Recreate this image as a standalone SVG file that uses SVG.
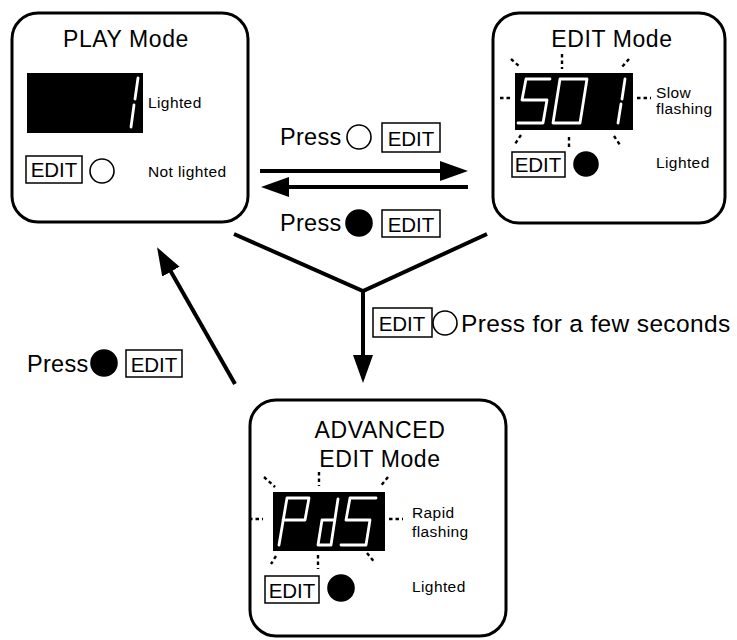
<svg xmlns="http://www.w3.org/2000/svg" width="737" height="640" viewBox="0 0 737 640">
<style>
.box{fill:#fff;stroke:#000;stroke-width:3}
.t{font-family:"Liberation Sans",Arial,Helvetica,sans-serif;fill:#000}
.title{font-size:23px;text-anchor:middle;letter-spacing:0.6px}
.small{font-size:15.5px;letter-spacing:0.4px}
.press{font-size:23.5px;letter-spacing:0.3px}
.key{fill:#fff;stroke:#000;stroke-width:1.5}
.keyt{font-size:20.5px;text-anchor:middle}
.disp{fill:#000}
.seg{fill:none;stroke:#fff;stroke-width:2.8;stroke-linecap:round;stroke-linejoin:round}
.ray{stroke:#000;stroke-width:2.4;stroke-dasharray:3.5 3;fill:none}
.conn{stroke:#000;stroke-width:4;fill:none}
.lamp{stroke:#000;stroke-width:1.6}
</style>
<defs>
<marker id="ah" markerUnits="userSpaceOnUse" markerWidth="30" markerHeight="22" refX="18" refY="10" orient="auto">
<path d="M0,0 L28,10 L0,20 z" fill="#000"/>
</marker>
</defs>

<g id="connectors">
<path class="conn" d="M260,171 L458,171" marker-end="url(#ah)"/>
<path class="conn" d="M468,187 L271,187" marker-end="url(#ah)"/>
<path class="conn" d="M234,234 L363,291 L487,234"/>
<path class="conn" d="M363,291 L363,373" marker-end="url(#ah)"/>
<path class="conn" d="M235,384 L162,256" marker-end="url(#ah)"/>
</g>

<g id="label-press-open">
<text class="t press" x="280" y="145">Press</text>
<circle class="lamp" cx="359" cy="137" r="12" fill="#fff"/>
<rect class="key" x="382" y="123" width="58" height="29"/>
<text class="t keyt" x="411" y="146">EDIT</text>
</g>
<g id="label-press-filled">
<text class="t press" x="280" y="231">Press</text>
<circle class="lamp" cx="359" cy="223" r="13" fill="#000"/>
<rect class="key" x="382" y="210" width="58" height="27"/>
<text class="t keyt" x="411" y="232">EDIT</text>
</g>
<g id="label-hold">
<rect class="key" x="373" y="308" width="59" height="29"/>
<text class="t keyt" x="402" y="331">EDIT</text>
<circle class="lamp" cx="445" cy="323" r="12" fill="#fff"/>
<text class="t press" x="461" y="332" style="font-size:24.5px;letter-spacing:0.35px">Press for a few seconds</text>
</g>
<g id="label-back">
<text class="t press" x="27" y="372">Press</text>
<circle class="lamp" cx="104" cy="363" r="13" fill="#000"/>
<rect class="key" x="126" y="350" width="56" height="27"/>
<text class="t keyt" x="154" y="372">EDIT</text>
</g>

<g id="play-mode">
<rect class="box" x="12" y="13" width="236" height="209" rx="26"/>
<text class="t title" x="126" y="47">PLAY Mode</text>
<rect class="disp" x="27" y="73" width="116" height="60"/>
<path class="seg" d="M138,78 L135,99 M134,105 L131,127"/>
<text class="t small" x="148" y="108">Lighted</text>
<rect class="key" x="26" y="156" width="56" height="27"/>
<text class="t keyt" x="54" y="177">EDIT</text>
<circle class="lamp" cx="102" cy="171" r="12" fill="#fff"/>
<text class="t small" x="148" y="177">Not lighted</text>
</g>

<g id="edit-mode">
<rect class="box" x="493" y="13" width="232" height="210" rx="26"/>
<text class="t title" x="612" y="47">EDIT Mode</text>
<rect class="disp" x="515" y="73" width="118" height="57"/>
<path class="seg" d="M550,79 L526,79 L522,100 L547,100 L543,123 L518,123"/>
<path class="seg" d="M560,79 L587,79 L580,123 L553,123 Z"/>
<path class="seg" d="M625,79 L622,99 M621,104 L618,123"/>
<path class="ray" d="M500,98 L513,98 M637,98 L651,98 M511,59 L519,66 M562,54 L562,69 M629,59 L621,68 M521,135 L515,144 M569,137 L569,149 M614,136 L620,145"/>
<text class="t small" x="656" y="98">Slow</text>
<text class="t small" x="656" y="114">flashing</text>
<rect class="key" x="512" y="152" width="53" height="25"/>
<text class="t keyt" x="538" y="172">EDIT</text>
<circle class="lamp" cx="586" cy="164" r="12" fill="#000"/>
<text class="t small" x="656" y="168">Lighted</text>
</g>

<g id="advanced-edit-mode">
<rect class="box" x="250" y="400" width="256" height="236" rx="26"/>
<text class="t title" x="380" y="438">ADVANCED</text>
<text class="t title" x="380" y="467">EDIT Mode</text>
<rect class="disp" x="273" y="492" width="112" height="59"/>
<path class="seg" d="M279,545 L287,498 L309,498 L305,520 L283,520"/>
<path class="seg" d="M338,499 L331,545 L318,545 L322,520 L335,520"/>
<path class="seg" d="M376,498 L350,498 L346,520 L370,520 L366,545 L341,545"/>
<path class="ray" d="M249,519 L263,519 M389,519 L403,519 M264,477 L275,487 M319,472 L319,486 M388,477 L380,487 M276,556 L271,564 M318,555 L318,569 M367,553 L375,563"/>
<text class="t small" x="412" y="518">Rapid</text>
<text class="t small" x="412" y="537">flashing</text>
<rect class="key" x="265" y="576" width="54" height="27"/>
<text class="t keyt" x="292" y="598">EDIT</text>
<circle class="lamp" cx="341" cy="588" r="13" fill="#000"/>
<text class="t small" x="412" y="592">Lighted</text>
</g>
</svg>
